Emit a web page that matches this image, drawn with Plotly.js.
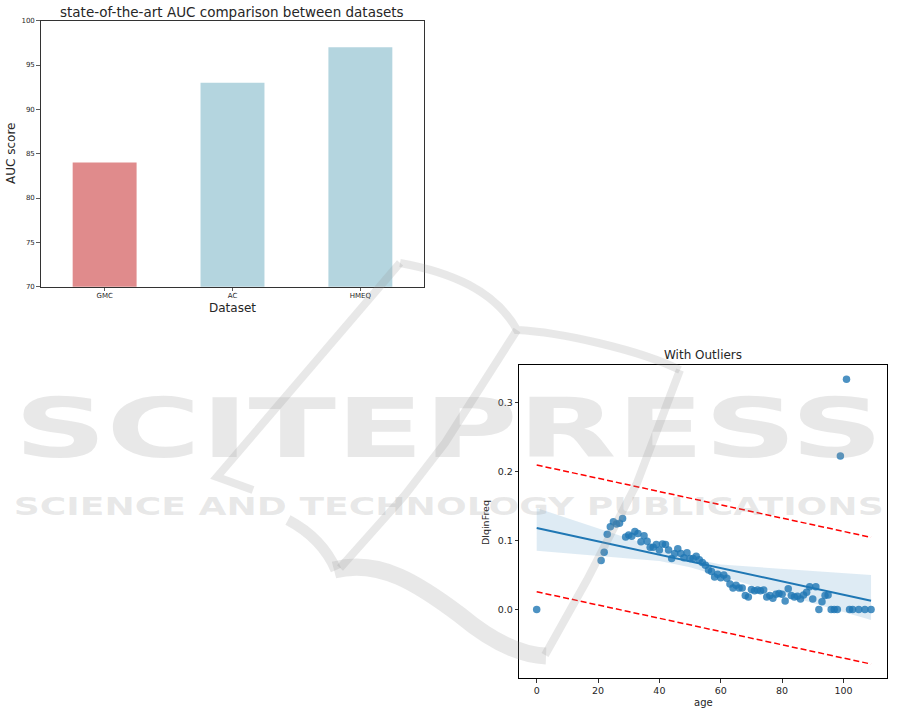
<!DOCTYPE html>
<html>
<head>
<meta charset="utf-8">
<script src="https://cdn.plot.ly/plotly-3.0.1.min.js"></script>
<style>
html,body{margin:0;padding:0;background:#fff;}
#chart{width:901px;height:714px;}
</style>
</head>
<body>
<div id="chart"></div>
<script>
// ---- Bar chart data ----
const datasets = ["GMC", "AC", "HMEQ"];
const aucScores = [84, 93, 97];
const barColors = ["#e08b8c", "#b4d5df", "#b4d5df"];
const aucTicks = [70, 75, 80, 85, 90, 95, 100];

// ---- Scatter (With Outliers) data ----
const ages = [0,21,22,23,24,25,26,27,28,29,30,31,32,33,34,35,36,37,38,39,40,41,42,43,44,45,46,47,48,49,50,51,52,53,54,55,56,57,58,59,60,61,62,63,64,65,66,67,68,69,70,71,72,73,74,75,76,77,78,79,80,81,82,83,84,85,86,87,88,89,90,91,92,93,94,95,96,97,98,99,101,102,103,105,107,109];
const dlqFreq = [0.0,0.071,0.083,0.109,0.120,0.127,0.124,0.125,0.132,0.105,0.108,0.106,0.113,0.110,0.098,0.107,0.099,0.090,0.090,0.094,0.086,0.095,0.094,0.086,0.074,0.081,0.088,0.081,0.075,0.082,0.074,0.074,0.077,0.072,0.068,0.064,0.057,0.055,0.047,0.051,0.046,0.050,0.045,0.037,0.031,0.035,0.031,0.031,0.020,0.018,0.029,0.027,0.028,0.027,0.028,0.018,0.020,0.016,0.022,0.023,0.022,0.012,0.030,0.020,0.018,0.019,0.015,0.021,0.025,0.033,0.015,0.033,0.0,0.011,0.020,0.021,0.0,0.0,0.0,0.2226,0.334,0.0,0.0,0.0,0.0,0.0];
const fitAge = [0, 109];
const fitFreq = [0.118, 0.0126];
const bandAge = [0,10,20,30,40,50,60,70,80,90,100,109];
const bandUpper = [0.147,0.132,0.1175,0.103,0.089,0.0745,0.065,0.062,0.059,0.056,0.0527,0.050];
const bandLower = [0.085,0.081,0.0774,0.074,0.0703,0.061,0.048,0.035,0.022,0.009,-0.004,-0.0155];
const limitAge = [0, 109];
const upperLimit = [0.2095, 0.1045];
const lowerLimit = [0.0256, -0.0793];
const ageTicks = [0, 20, 40, 60, 80, 100];
const freqTicks = [0.0, 0.1, 0.2, 0.3];

const W = 901, H = 714;
const px = x => x / W;
const py = y => 1 - y / H;
const FONT = "DejaVu Sans";
const TXT = "#262626";

const traces = [
  {type:"bar", x:datasets, y:aucScores, marker:{color:barColors, line:{width:0}}, width:0.5,
   xaxis:"x", yaxis:"y", showlegend:false, hoverinfo:"x+y"},
  {type:"scatter", mode:"markers", x:ages, y:dlqFreq, xaxis:"x2", yaxis:"y2",
   marker:{color:"rgba(31,119,180,0.8)", size:7.5, line:{width:0}}, showlegend:false},
  {type:"scatter", mode:"lines", x:bandAge, y:bandLower, xaxis:"x2", yaxis:"y2",
   line:{width:0, color:"rgba(0,0,0,0)"}, showlegend:false, hoverinfo:"skip"},
  {type:"scatter", mode:"lines", x:bandAge, y:bandUpper, xaxis:"x2", yaxis:"y2",
   line:{width:0, color:"rgba(0,0,0,0)"}, fill:"tonexty", fillcolor:"rgba(31,119,180,0.15)",
   showlegend:false, hoverinfo:"skip"},
  {type:"scatter", mode:"lines", x:fitAge, y:fitFreq, xaxis:"x2", yaxis:"y2",
   line:{color:"#1f77b4", width:2}, showlegend:false},
  {type:"scatter", mode:"lines", x:limitAge, y:upperLimit, xaxis:"x2", yaxis:"y2",
   line:{color:"#ff0000", width:1.5, dash:"6px,3px"}, showlegend:false},
  {type:"scatter", mode:"lines", x:limitAge, y:lowerLimit, xaxis:"x2", yaxis:"y2",
   line:{color:"#ff0000", width:1.5, dash:"6px,3px"}, showlegend:false}
];

const wm = "rgba(150,150,150,0.22)";
function P(pts){ // page px -> paper path
  return pts.replace(/(-?\d+(?:\.\d+)?),(-?\d+(?:\.\d+)?)/g, (m,a,b)=> px(+a).toFixed(4)+","+py(+b).toFixed(4));
}
const strokes = [
  {d:"M400,263 L217,477 L253,490", w:8},
  {d:"M400,263 C450,272 495,290 517,330 C560,332 640,350 680,370", w:8},
  {d:"M680,370 L637,483 L587,580 Q560,628 545,655", w:8},
  {d:"M517,330 L445,443 L405,495 L340,568", w:8},
  {d:"M288,520 Q322,538 336,570", w:11},
  {d:"M334,570 C380,558 420,585 460,615 C490,640 518,655 546,656", w:17}
];
const shapes = strokes.map(s => ({type:"path", xref:"paper", yref:"paper", layer:"above",
  path:P(s.d), line:{color:wm, width:s.w}}));

const annotations = [
  {text:"state-of-the-art AUC comparison between datasets", x:px(232.5), y:py(12), xref:"paper", yref:"paper",
   showarrow:false, xanchor:"center", yanchor:"middle", font:{family:FONT, size:13.5, color:TXT}},
  {text:"AUC score", x:px(11), y:py(154), xref:"paper", yref:"paper", textangle:-90,
   showarrow:false, xanchor:"center", yanchor:"middle", font:{family:FONT, size:12, color:TXT}},
  {text:"Dataset", x:px(232.5), y:py(308), xref:"paper", yref:"paper",
   showarrow:false, xanchor:"center", yanchor:"middle", font:{family:FONT, size:12, color:TXT}},
  {text:"With Outliers", x:px(703), y:py(355), xref:"paper", yref:"paper",
   showarrow:false, xanchor:"center", yanchor:"middle", font:{family:FONT, size:12, color:TXT}},
  {text:"DlqinFreq", x:px(485), y:py(523), xref:"paper", yref:"paper", textangle:-90,
   showarrow:false, xanchor:"center", yanchor:"middle", font:{family:FONT, size:9.5, color:TXT}},
  {text:"age", x:px(703), y:py(702), xref:"paper", yref:"paper",
   showarrow:false, xanchor:"center", yanchor:"middle", font:{family:FONT, size:10, color:TXT}},
  {text:"SCITEPRESS", x:px(448.5), y:py(428), xref:"paper", yref:"paper",
   showarrow:false, xanchor:"center", yanchor:"middle", font:{family:FONT, size:82, color:wm, weight:"bold"}},
  {text:"SCIENCE AND TECHNOLOGY PUBLICATIONS", x:px(448), y:py(506), xref:"paper", yref:"paper",
   showarrow:false, xanchor:"center", yanchor:"middle", font:{family:FONT, size:25, color:wm, weight:"bold"}}
];

const layout = {
  width:W, height:H, margin:{l:0,r:0,t:0,b:0}, paper_bgcolor:"#fff", plot_bgcolor:"rgba(0,0,0,0)",
  showlegend:false, font:{family:FONT, color:TXT},
  xaxis:{domain:[px(40.7), px(424.3)], range:[-0.5,2.5], type:"category", anchor:"y",
    showline:true, mirror:true, linecolor:"#333", linewidth:1, ticks:"outside", ticklen:3.5, tickwidth:0.8,
    tickcolor:"#333", tickfont:{size:7, color:TXT}, ticklabelstandoff:-2, showgrid:false, zeroline:false, fixedrange:true},
  yaxis:{domain:[py(286.7), py(20.7)], range:[70,100], tickvals:aucTicks, anchor:"x",
    showline:true, mirror:true, linecolor:"#333", linewidth:1, ticks:"outside", ticklen:3.5, tickwidth:0.8,
    tickcolor:"#333", tickfont:{size:7, color:TXT}, showgrid:false, zeroline:false},
  xaxis2:{domain:[px(519.3), px(887.3)], range:[-5.67,114.3], tickvals:ageTicks, anchor:"y2",
    showline:true, mirror:true, linecolor:"#000", linewidth:1, ticks:"outside", ticklen:3.5, tickwidth:0.8,
    tickcolor:"#000", tickfont:{size:9.5, color:TXT}, showgrid:false, zeroline:false},
  yaxis2:{domain:[py(678.3), py(365)], range:[-0.100,0.3546], tickvals:freqTicks, tickformat:".1f", anchor:"x2",
    showline:true, mirror:true, linecolor:"#000", linewidth:1, ticks:"outside", ticklen:3.5, tickwidth:0.8,
    tickcolor:"#000", tickfont:{size:9.5, color:TXT}, showgrid:false, zeroline:false},
  shapes:shapes, annotations:annotations
};

Plotly.newPlot("chart", traces, layout, {displayModeBar:false, staticPlot:true}).then(gd => {
  gd.querySelectorAll(".annotation-text").forEach(t => {
    const s = t.textContent;
    if (s === "SCITEPRESS") { t.setAttribute("textLength", 869); t.setAttribute("lengthAdjust", "spacingAndGlyphs"); }
    if (s === "SCIENCE AND TECHNOLOGY PUBLICATIONS") { t.setAttribute("textLength", 870); t.setAttribute("lengthAdjust", "spacingAndGlyphs"); }
  });
});
</script>
</body>
</html>
